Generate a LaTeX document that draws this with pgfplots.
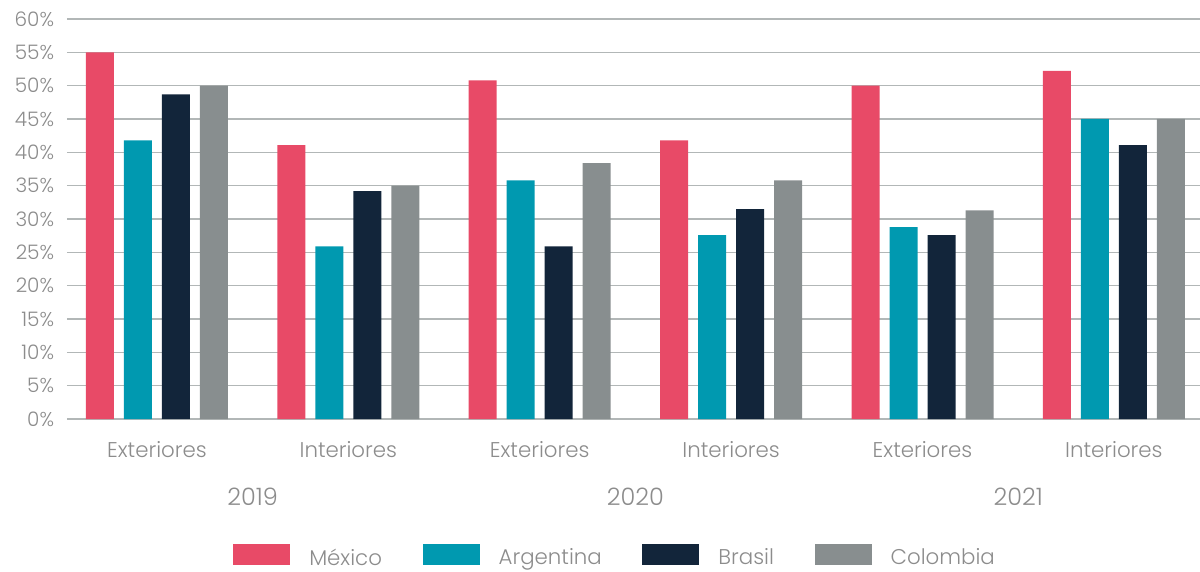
\documentclass[border=0pt]{standalone}
\usepackage{fontspec}
\setmainfont{Poppins}[UprightFont=* Light]
\usepackage{pgfplots}
\pgfplotsset{compat=1.18}
\definecolor{mex}{HTML}{E84A67}
\definecolor{arg}{HTML}{0099B0}
\definecolor{bra}{HTML}{12253A}
\definecolor{col}{HTML}{888E8F}
\definecolor{gridc}{HTML}{B2B7B7}
\definecolor{labc}{HTML}{8C8C8C}
\pgfplotsset{sqlegend/.style={legend image code/.code={\fill[##1] (0pt,-5.75pt) rectangle (42.75pt,10pt);}}}
\begin{document}
\begin{tikzpicture}
\begin{axis}[
  name=ax,
  scale only axis, width=849.75pt, height=300pt,
  xmin=-0.47, xmax=5.45, ymin=0, ymax=60,
  axis line style={draw=none},
  major tick length=0pt,
  ymajorgrids, grid style={color=gridc, line width=1.2pt},
  ytick={0,5,...,60},
  yticklabels={0\%,5\%,10\%,15\%,20\%,25\%,30\%,35\%,40\%,45\%,50\%,55\%,60\%},
  xtick={0,...,5},
  xticklabels={Exteriores,Interiores,Exteriores,Interiores,Exteriores,Interiores},
  tick label style={text=labc},
  yticklabel style={font=\fontsize{15}{17}\selectfont, anchor=east, inner sep=0pt, xshift=-9.5pt},
  xticklabel style={font=\fontsize{16}{18}\selectfont, anchor=base, inner sep=0pt, yshift=-28.7pt},
  clip=false,
  legend columns=4,
  legend style={at={(axis description cs:0.1465,-0.313)}, anchor=north west,
    draw=none, fill=none, inner sep=0pt, font=\fontsize{16}{19}\selectfont, text=labc,
    nodes={inner sep=0pt}, column sep=14.25pt,
    /tikz/every even column/.append style={column sep=30.5pt}},
]
\addplot[ybar, bar width=21pt, bar shift=-42.75pt, fill=mex, draw=none, sqlegend]
  coordinates {(0,55.0) (1,41.1) (2,50.8) (3,41.8) (4,50.0) (5,52.2)};
\addlegendentry{México}
\addplot[ybar, bar width=21pt, bar shift=-14.25pt, fill=arg, draw=none, sqlegend]
  coordinates {(0,41.8) (1,25.9) (2,35.8) (3,27.6) (4,28.8) (5,45.0)};
\addlegendentry{Argentina}
\addplot[ybar, bar width=21pt, bar shift=14.25pt, fill=bra, draw=none, sqlegend]
  coordinates {(0,48.7) (1,34.2) (2,25.9) (3,31.5) (4,27.6) (5,41.1)};
\addlegendentry{Brasil}
\addplot[ybar, bar width=21pt, bar shift=42.75pt, fill=col, draw=none, sqlegend]
  coordinates {(0,50.0) (1,35.0) (2,38.4) (3,35.8) (4,31.3) (5,45.0)};
\addlegendentry{Colombia}
\node[anchor=base, yshift=-64.7pt, text=labc, font=\fontsize{18}{20}\selectfont] at (axis cs:0.5,0) {2019};
\node[anchor=base, yshift=-64.7pt, text=labc, font=\fontsize{18}{20}\selectfont] at (axis cs:2.5,0) {2020};
\node[anchor=base, yshift=-64.7pt, text=labc, font=\fontsize{18}{20}\selectfont] at (axis cs:4.5,0) {2021};
\end{axis}
\pgfresetboundingbox
\path[use as bounding box] ([xshift=-50.25pt,yshift=-114.2pt]ax.south west) rectangle ([yshift=14.25pt]ax.north east);
\end{tikzpicture}
\end{document}
